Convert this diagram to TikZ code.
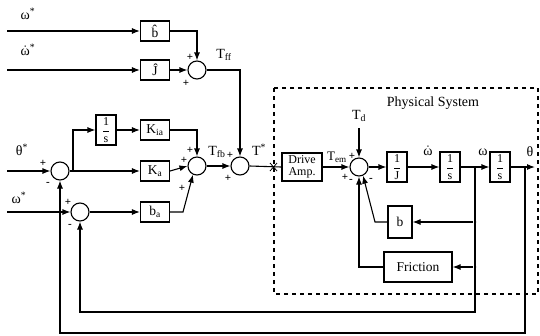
\documentclass[tikz,border=0pt]{standalone}
\usepackage{fontspec}
\setmainfont{Liberation Serif}
\usetikzlibrary{arrows.meta}
\newcommand\myfrac[1]{$\displaystyle\frac{\hbox{1}}{\hbox{#1}}$}
\newcommand\wdot{$\dot{\hbox{ω}}$}
\begin{document}
\begin{tikzpicture}[x=1pt,y=-1pt,
  line width=1.1pt,
  blk/.style={draw, minimum width=29pt, minimum height=20pt, inner sep=1pt, font=\fontsize{13.5}{14}\selectfont},
  frb/.style={draw, minimum width=20pt, minimum height=30pt, inner sep=1pt, font=\fontsize{12}{13}\selectfont},
  sumc/.style={draw, circle, minimum size=18pt, inner sep=0pt},
  lbl/.style={font=\fontsize{14}{15}\selectfont, inner sep=0pt},
  sg/.style={font=\bfseries\fontsize{11}{12}\selectfont, inner sep=0pt},
  arr/.style={-{Latex[length=8pt,width=6pt]}},
  jdot/.style={circle, fill, inner sep=0pt, minimum size=2.5pt},
  sysbox/.style={line width=2pt, dash pattern=on 4pt off 4pt}]
\useasboundingbox (0,0) rectangle (540,335);
% feedforward
\node[lbl] (lw1) at (28,14) {ω\textsuperscript{*}};
\node[lbl] (lw2) at (28,50) {\wdot\textsuperscript{*}};
\coordinate (w1s) at (7,31);
\coordinate (w2s) at (7,70);
\node[blk] (bh) at (155,31) {b̂};
\node[blk] (jh) at (155,70) {Ĵ};
\node[sumc] (tff) at (197,70) {};
\node[lbl] (ltff) at (224,55) {T\textsubscript{ff}};
\node[sg] at (190,57) {+};
\node[sg] at (186,83) {+};
% feedback controller
\node[lbl] (lth) at (22,150) {θ\textsuperscript{*}};
\node[lbl] (lw3) at (19,198) {ω\textsuperscript{*}};
\coordinate (ths) at (7,171);
\coordinate (w3s) at (7,212);
\node[sumc] (c1) at (60,171) {};
\node[sumc] (c2) at (80,212) {};
\node[sg] at (43,163) {+};
\node[sg] at (48,184) {-};
\node[sg] at (68,202) {+};
\node[sg] at (70,226) {-};
\coordinate (br) at (73,171);
\node[frb] (is) at (106,130) {\myfrac{s}};
\node[blk] (kia) at (155,130) {K\textsubscript{ia}};
\node[blk] (ka) at (155,171) {K\textsubscript{a}};
\node[blk] (ba) at (155,212) {b\textsubscript{a}};
\coordinate (bac) at (183,212);
\node[sumc] (tfb) at (197,166) {};
\node[lbl] (ltfb) at (217,152) {T\textsubscript{fb}};
\node[sg] at (190,150) {+};
\node[sg] at (184,160) {+};
\node[sg] at (182,188) {+};
\node[sumc] (tst) at (240,166) {};
\node[lbl] (ltst) at (259,150) {T\textsuperscript{*}};
\node[sg] at (230,155) {+};
\node[sg] at (228,178) {+};
% physical system
\draw[sysbox] (274,88) rectangle (538,294);
\node[lbl] (lps) at (433,103) {Physical System};
\node[lbl] (ltd) at (359,116) {T\textsubscript{d}};
\coordinate (tdc) at (359,128);
\node[draw, minimum width=40pt, minimum height=28pt, inner sep=1pt, align=center, font=\fontsize{12}{12.5}\selectfont] (da) at (302,167) {Drive\\Amp.};
\node[sumc] (ps) at (359,167) {};
\node[lbl, font=\fontsize{13}{13}\selectfont] (ltem) at (337,157) {T\textsubscript{em}};
\node[sg] at (352,156) {+};
\node[sg] at (345,177) {+};
\node[sg] at (351,181) {-};
\node[sg] at (371,180) {-};
\node[frb] (ij) at (397,167) {\myfrac{J}};
\node[frb] (s1) at (450,167) {\myfrac{s}};
\node[frb] (s2) at (500,167) {\myfrac{s}};
\node[lbl] (lwd) at (428,151) {\wdot};
\node[lbl] (lw) at (483,152) {ω};
\node[lbl] (lthe) at (530,152) {θ};
\coordinate (out) at (535,167);
\coordinate (wtap) at (475,167);
\coordinate (thtap) at (525,167);
\node[blk, minimum width=24pt, minimum height=32pt] (bb) at (400,222) {b};
\node[blk, minimum width=68pt, minimum height=30pt] (fr) at (418,267) {Friction};
\node[jdot] (bj) at (475,222) {};
\node[jdot] (fj) at (475,267) {};
\coordinate (bk) at (375,222);
\coordinate (fb1) at (475,312);
\coordinate (fb2) at (525,333);
% connectors
\draw[arr] (w1s) -- (bh.west);
\draw[arr] (bh.east) -| (tff.north);
\draw[arr] (w2s) -- (jh.west);
\draw[arr] (jh.east) -- (tff.west);
\draw[arr] (tff.east) -| (tst.north);
\draw[arr] (ths) -- (c1.west);
\draw[arr] (c1.east) -- (ka.west);
\draw[arr] (br) |- (is.west);
\draw[arr] (is.east) -- (kia.west);
\draw[arr] (kia.east) -| (tfb.north);
\draw[arr] (ka.east) -- (tfb.west);
\draw[arr] (w3s) -- (c2.west);
\draw[arr] (c2.east) -- (ba.west);
\draw[arr] (ba.east) -- (bac) -- (tfb.245);
\draw[arr] (tfb.east) -- (tst.west);
\draw (tst.east) -- (da.west);
\draw[line width=0.8pt] (270,163) -- (277,171) (270,171) -- (277,163);
\draw[arr] (da.east) -- (ps.west);
\draw[arr] (tdc) -- (ps.north);
\draw[arr] (ps.east) -- (ij.west);
\draw[arr] (ij.east) -- (s1.west);
\draw[arr] (s1.east) -- (s2.west);
\draw[arr] (s2.east) -- (out);
\draw[arr] (bj) -- (bb.east);
\draw[arr] (fj) -- (fr.east);
\draw[arr] (bb.west) -- (bk) -- (ps.295);
\draw[arr] (fr.west) -| (ps.south);
\draw[arr] (wtap) -- (fb1) -| (c2.south);
\draw[arr] (thtap) -- (fb2) -| (c1.south);
\end{tikzpicture}
\end{document}
